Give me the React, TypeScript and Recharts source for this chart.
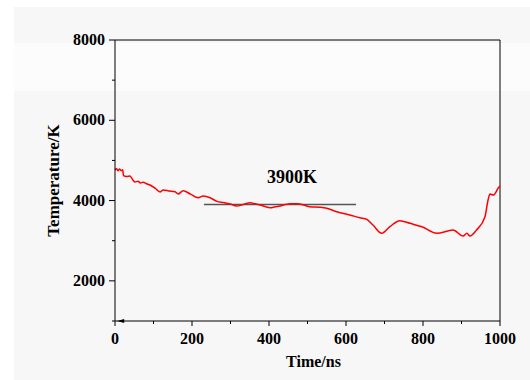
import React from 'react';
import {
  LineChart,
  Line,
  XAxis,
  YAxis,
  ReferenceLine,
  ReferenceDot
} from 'recharts';

// time (ns) and temperature (K)
const times = [
  0, 4, 8, 12, 16, 20, 22, 30, 39, 46, 52, 60, 66, 73, 82, 91, 104, 117, 125, 140,
  156, 164, 177, 196, 216, 229, 247, 265, 282, 299, 316, 333, 351, 364, 377, 390,
  403, 416, 429, 442, 455, 475, 490, 506, 532, 550, 576, 610, 636, 654, 670, 693,
  714, 740, 766, 797, 836, 878, 904, 914, 922, 939, 961, 969, 974, 983, 995, 1000
];
const temps = [
  4760, 4790, 4740, 4785, 4745, 4770, 4620, 4600, 4615, 4520, 4463, 4480, 4440, 4455, 4420, 4388, 4310, 4213, 4263, 4240,
  4221, 4163, 4245, 4160, 4071, 4113, 4071, 3981, 3950, 3914, 3864, 3900, 3947, 3920, 3889, 3850,
  3822, 3845, 3864, 3900, 3922, 3922, 3890, 3847, 3832, 3807, 3723, 3640, 3573, 3533, 3391, 3184,
  3349, 3498, 3433, 3349, 3184, 3267, 3117, 3184, 3117, 3267, 3598, 4014, 4163, 4138, 4305, 4360
];

const xTicks = [0, 100, 200, 300, 400, 500, 600, 700, 800, 900, 1000];
const yTicks = [1000, 2000, 3000, 4000, 5000, 6000, 7000, 8000];

const plateau = 3900;
const plateauStart = 231;
const plateauEnd = 626;

const data = times.map((t, i) => ({ time: t, temp: temps[i] }));

const FONT = '"Liberation Serif", "Times New Roman", serif';

const XTick = (props: any) => {
  const { x, y, payload } = props;
  const major = payload.value % 200 === 0;
  return (
    <g>
      <line x1={x} y1={y} x2={x} y2={y + (major ? 5 : 3)} stroke="#000" strokeWidth={1} />
      {major && (
        <text x={x} y={y + 23} textAnchor="middle" fontFamily={FONT} fontWeight="bold" fontSize={16} fill="#000">
          {payload.value}
        </text>
      )}
    </g>
  );
};

const YTick = (props: any) => {
  const { x, y, payload } = props;
  const major = payload.value % 2000 === 0;
  return (
    <g>
      <line x1={x} y1={y} x2={x - (major ? 6 : 3)} y2={y} stroke="#000" strokeWidth={1} />
      {major && (
        <text x={x - 10} y={y + 5} textAnchor="end" fontFamily={FONT} fontWeight="bold" fontSize={16} fill="#000">
          {payload.value}
        </text>
      )}
    </g>
  );
};

// small left-pointing arrowhead sitting on the x axis near the origin
const Arrow = (props: any) => {
  const { cx, cy } = props;
  return <path d={`M${cx - 4},${cy} L${cx + 3},${cy - 2} L${cx + 3},${cy + 2} Z`} fill="#000" />;
};

const App: React.FC = () => {
  return (
    <div style={{ position: 'absolute', left: 0, top: 0, width: 530, height: 380, background: '#fff' }}>
      <div style={{ position: 'absolute', left: 14, top: 7, right: 0, bottom: 0, background: '#f7f7f7' }} />
      <div style={{ position: 'absolute', left: 14, top: 43, right: 0, height: 48, background: '#fcfcfc' }} />
      <div style={{ position: 'absolute', left: 0, top: 0 }}>
        <LineChart width={530} height={380} data={data} margin={{ top: 40, right: 30, left: 0, bottom: 0 }}>
          <XAxis
            dataKey="time"
            type="number"
            domain={[0, 1000]}
            ticks={xTicks}
            interval={0}
            tickSize={0}
            tickMargin={0}
            tickLine={false}
            tick={<XTick />}
            height={59}
            axisLine={{ stroke: '#000', strokeWidth: 1 }}
            label={{
              value: 'Time/ns',
              position: 'center',
              dx: 6,
              dy: 11,
              style: { fontFamily: FONT, fontWeight: 'bold', fontSize: 16, fill: '#000' }
            }}
          />
          <YAxis
            type="number"
            domain={[1000, 8000]}
            ticks={yTicks}
            interval={0}
            tickSize={0}
            tickMargin={0}
            tickLine={false}
            tick={<YTick />}
            width={115}
            axisLine={{ stroke: '#000', strokeWidth: 1 }}
            label={{
              value: 'Temperature/K',
              angle: -90,
              position: 'center',
              dx: -5,
              style: { fontFamily: FONT, fontWeight: 'bold', fontSize: 17, fill: '#000', textAnchor: 'middle' }
            }}
          />
          <ReferenceLine y={8000} stroke="#000" strokeWidth={1} />
          <ReferenceLine x={1000} stroke="#000" strokeWidth={1} />
          <ReferenceLine
            segment={[{ x: plateauStart, y: plateau }, { x: plateauEnd, y: plateau }]}
            stroke="#555"
            strokeWidth={1.5}
          />
          <Line
            type="monotone"
            dataKey="temp"
            stroke="#ff0000"
            strokeWidth={1.5}
            dot={false}
            isAnimationActive={false}
          />
          <ReferenceDot x={16} y={1000} r={3} shape={<Arrow />} />
          <ReferenceDot
            x={460}
            y={4590}
            r={0}
            stroke="none"
            fill="none"
            label={{
              value: '3900K',
              position: 'center',
              style: { fontFamily: FONT, fontWeight: 'bold', fontSize: 18, fill: '#000' }
            }}
          />
        </LineChart>
      </div>
    </div>
  );
};

export default App;
